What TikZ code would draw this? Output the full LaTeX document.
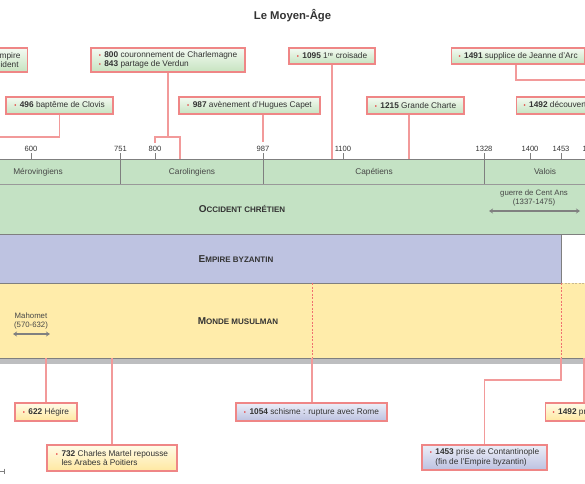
\documentclass[tikz,border=0pt]{standalone}
\usepackage{fontspec}
\setmainfont{Liberation Sans}
\usetikzlibrary{arrows.meta,calc}
\definecolor{bandgreen}{HTML}{C4E2C4}
\definecolor{bandblue}{HTML}{BEC3E1}
\definecolor{bandyellow}{HTML}{FFECAA}
\definecolor{shadowgray}{HTML}{BDBEC0}
\definecolor{linegray}{HTML}{7F7F7F}
\definecolor{pinkline}{HTML}{F29A9A}
\definecolor{boxborder}{HTML}{EF8686}
\definecolor{bulred}{HTML}{E53030}
\definecolor{txt}{HTML}{333333}
\definecolor{dashred}{HTML}{F07070}
\definecolor{dashtan}{HTML}{C8B890}
\definecolor{gtop}{HTML}{F4FAF2}
\definecolor{gbot}{HTML}{C6E3C0}
\definecolor{ytop}{HTML}{FFFBE8}
\definecolor{ybot}{HTML}{FFE8A0}
\definecolor{btop}{HTML}{ECEEF8}
\definecolor{bbot}{HTML}{BCC1E0}
\definecolor{arrgray}{HTML}{808080}
\newcommand\bul{{\color{bulred}\fontsize{6}{6}\selectfont\textbullet}\hspace{3.5pt}}
\newcommand\fsc[2]{{\fontsize{10}{12}\selectfont #1}{\fontsize{8}{10}\selectfont #2}}
\begin{document}
\begin{tikzpicture}[x=1pt,y=-1pt,font=\fontsize{8.3}{9.5}\selectfont,text=txt,
  evbox/.style={draw=boxborder,line width=1.1pt,inner xsep=4pt,inner ysep=0pt,align=left},
  gbox/.style={evbox,top color=gtop,bottom color=gbot},
  ybox/.style={evbox,top color=ytop,bottom color=ybot},
  bbox/.style={evbox,top color=btop,bottom color=bbot},
  conn/.style={draw=pinkline,line width=1.1pt},
  dashline/.style={draw=dashred,line width=0.8pt,dash pattern=on 2pt off 1.5pt},
  bandrule/.style={draw=linegray,line width=0.8pt},
  yrlab/.style={font=\fontsize{7.6}{9}\selectfont,text=txt,inner sep=0pt,anchor=south},
  perlab/.style={font=\fontsize{8.3}{10}\selectfont,text=txt!90!white},
  bandlab/.style={font=\bfseries,text=txt},
  smalllab/.style={font=\fontsize{7.8}{9.6}\selectfont,text=txt!90!white,align=center},
  dblarrow/.style={draw=arrgray,line width=1.6pt,{Stealth[length=4pt,width=5pt]}-{Stealth[length=4pt,width=5pt]}}]
\useasboundingbox (0,0) rectangle (585,483);
\clip (0,0) rectangle (585,483);
% bands
\fill[bandgreen] (-5,159) rectangle (590,234);
\fill[bandblue] (-5,234) rectangle (561,283);
\fill[bandyellow] (-5,283) rectangle (590,358);
\fill[shadowgray] (-5,358) rectangle (590,364);
\draw[bandrule] (-5,159) -- (590,159);
\draw[bandrule,draw=linegray!80] (-5,184) -- (590,184);
\draw[bandrule] (-5,234) -- (590,234);
\draw[bandrule] (-5,283) -- (561,283);
\draw[bandrule] (561,234) -- (561,283);
\draw[draw=dashtan,line width=0.8pt,dash pattern=on 2pt off 1.5pt] (561,283) -- (590,283);
\draw[bandrule] (-5,358) -- (590,358);
% ticks and dividers
\foreach \x/\y in {31/600,155/800,343/1100,530/1400,561/1453,591/1492}{
  \draw[bandrule] (\x,153) -- (\x,159);
  \node[yrlab] (t\y) at (\x,152) {\y};
}
\foreach \x/\y in {120.5/751,263/987,484/1328}{
  \draw[bandrule] (\x,153) -- (\x,184);
  \node[yrlab] (t\y) at (\x,152) {\y};
}
% title
\node[font=\bfseries\fontsize{11.3}{13}\selectfont] (title) at (292.5,16) {Le Moyen-Âge};
% periods
\node[perlab] (merov) at (38,172) {Mérovingiens};
\node[perlab] (carol) at (192,172) {Carolingiens};
\node[perlab] (capet) at (374,172) {Capétiens};
\node[perlab] (valois) at (545,172) {Valois};
% band labels
\node[bandlab] (occ) at (242,209) {\fsc{O}{CCIDENT CHRÉTIEN}};
\node[bandlab] (byz) at (236,259) {\fsc{E}{MPIRE BYZANTIN}};
\node[bandlab] (mus) at (238,321) {\fsc{M}{ONDE MUSULMAN}};
% small labels with arrows
\node[smalllab] (cent) at (534,198) {guerre de Cent Ans\\(1337-1475)};
\coordinate (centL) at (489,211);
\coordinate (centR) at (580,211);
\draw[dblarrow] (centL) -- (centR);
\node[smalllab] (maho) at (31,321) {Mahomet\\(570-632)};
\coordinate (mahoL) at (13,334);
\coordinate (mahoR) at (50,334);
\draw[dblarrow] (mahoL) -- (mahoR);
% top boxes
\node[gbox,inner xsep=7pt,minimum height=24pt,anchor=east] (b476) at (28,60) {\bul\textbf{476} fin de l'Empire\\\hphantom{\bul}romain d'Occident};
\node[gbox,minimum width=154pt,minimum height=24pt] (b800) at (168,60) {\bul\textbf{800} couronnement de Charlemagne\\\bul\textbf{843} partage de Verdun};
\node[gbox,minimum width=86pt,minimum height=16pt] (b1095) at (332,56) {\bul\textbf{1095} 1\textsuperscript{re} croisade};
\node[gbox,inner xsep=7pt,minimum height=16pt,anchor=west] (b1491) at (451,56) {\bul\textbf{1491} supplice de Jeanne d'Arc};
\node[gbox,minimum width=107pt,minimum height=17pt] (b496) at (59.5,105.5) {\bul\textbf{496} baptême de Clovis};
\node[gbox,minimum width=141pt,minimum height=17pt] (b987) at (249.5,105.5) {\bul\textbf{987} avènement d'Hugues Capet};
\node[gbox,minimum width=97pt,minimum height=17pt] (b1215) at (415.5,105.5) {\bul\textbf{1215} Grande Charte};
\node[gbox,inner xsep=7pt,minimum height=17pt,anchor=west] (b1492d) at (516,105.5) {\bul\textbf{1492} découverte de l'Amérique};
% bottom boxes
\node[ybox,minimum width=62pt,minimum height=18pt] (b622) at (46,412) {\bul\textbf{622} Hégire};
\node[ybox,minimum width=130pt,minimum height=26pt] (b732) at (112,458) {\bul\textbf{732} Charles Martel repousse\\\hphantom{\bul}les Arabes à Poitiers};
\node[bbox,minimum width=151pt,minimum height=18pt] (b1054) at (311.5,412) {\bul\textbf{1054} schisme : rupture avec Rome};
\node[bbox,minimum width=125pt,minimum height=25pt] (b1453) at (484.5,457.5) {\bul\textbf{1453} prise de Contantinople\\\hphantom{\bul}(fin de l'Empire byzantin)};
\node[ybox,inner xsep=7pt,minimum height=18pt,anchor=west] (b1492g) at (545,412) {\bul\textbf{1492} prise de Grenade};
% connectors top
\coordinate (c496) at (-5,137);
\draw[conn] (b496.south) |- (c496);
\coordinate (j800) at (168,137);
\coordinate (p800) at (155,143);
\coordinate (p843) at (180,159);
\draw[conn] (b800.south) -- (j800);
\draw[conn] (p800) |- (j800);
\draw[conn] (p843) |- (j800);
\coordinate (p987) at (263,142);
\draw[conn] (b987.south -| p987) -- (p987);
\coordinate (p1095) at (332,159);
\draw[conn] (b1095.south) -- (p1095);
\coordinate (p1215) at (409,159);
\draw[conn] (b1215.south -| p1215) -- (p1215);
\coordinate (x1491) at (516,80);
\coordinate (c1491) at (590,80);
\draw[conn] (b1491.south -| x1491) |- (c1491);
% connectors bottom
\coordinate (m622) at (46,358);
\draw[conn] (m622) -- (b622.north);
\coordinate (m732) at (112,358);
\draw[conn] (m732) -- (b732.north);
\coordinate (d1054) at (312,283);
\coordinate (m1054) at (312,358);
\draw[dashline] (d1054) -- (m1054);
\draw[conn] (m1054) -- (b1054.north -| m1054);
\coordinate (d1453) at (561,283);
\coordinate (m1453) at (561,358);
\coordinate (k1453) at (561,380);
\draw[dashline] (d1453) -- (m1453);
\draw[conn] (m1453) -- (k1453) -| (b1453.north);
\coordinate (m1492) at (584,358);
\draw[conn] (m1492) -- (b1492g.north -| m1492);
% small mark bottom left
\coordinate (hm1) at (0,471);
\coordinate (hm2) at (4,471);
\draw[draw=linegray,line width=0.7pt] (hm1) -- (hm2) (4,468.5) -- (4,473.5);
\end{tikzpicture}
\end{document}
